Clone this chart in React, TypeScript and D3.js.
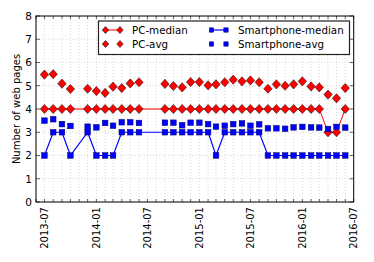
import React from "react";
import * as d3 from "d3";

const months = [
  "2013-07", "2013-08", "2013-09", "2013-10", "2013-12",
  "2014-01", "2014-02", "2014-03", "2014-04", "2014-05", "2014-06",
  "2014-09", "2014-10", "2014-11", "2014-12",
  "2015-01", "2015-02", "2015-03", "2015-04", "2015-05", "2015-06",
  "2015-07", "2015-08", "2015-09", "2015-10", "2015-11", "2015-12",
  "2016-01", "2016-02", "2016-03", "2016-04", "2016-05", "2016-06",
];

const pcMedian = [
  4, 4, 4, 4, 4,
  4, 4, 4, 4, 4, 4,
  4, 4, 4, 4,
  4, 4, 4, 4, 4, 4,
  4, 4, 4, 4, 4, 4,
  4, 4, 4, 3, 3, 4,
];

const pcAvg = [
  5.48, 5.5, 5.09, 4.86, 4.87,
  4.77, 4.69, 4.96, 4.9, 5.1, 5.15,
  5.08, 4.99, 4.93, 5.16,
  5.16, 5.02, 5.06, 5.15, 5.26, 5.19,
  5.23, 5.15, 4.87, 5.06, 5.0, 5.06,
  5.19, 4.97, 4.93, 4.62, 4.46, 4.9,
];

const phoneMedian = [
  2, 3, 3, 2, 3,
  2, 2, 2, 3, 3, 3,
  3, 3, 3, 3,
  3, 3, 2, 3, 3, 3,
  3, 3, 2, 2, 2, 2,
  2, 2, 2, 2, 2, 2,
];

const phoneAvg = [
  3.5, 3.56, 3.35, 3.27, 3.24,
  3.21, 3.4, 3.28, 3.43, 3.43, 3.4,
  3.41, 3.41, 3.3, 3.41,
  3.41, 3.35, 3.24, 3.28, 3.35, 3.38,
  3.28, 3.34, 3.17, 3.17, 3.15, 3.21,
  3.23, 3.21, 3.2, 3.14, 3.23, 3.2,
];

const xTickLabels = ["2013-07", "2014-01", "2014-07", "2015-01", "2015-07", "2016-01", "2016-07"];
const yTicks = [0, 1, 2, 3, 4, 5, 6, 7, 8];
const yLabel = "Number of web pages";
const legendNames = ["PC-median", "PC-avg", "Smartphone-median", "Smartphone-avg"];

const W = 374, H = 262;
const L = 36, R = 353.7, T = 16, B = 202;
const FONT = "DejaVu Sans, sans-serif";
const RED = "#ff0000";
const BLUE = "#0000ff";

const parse = d3.timeParse("%Y-%m");

export default function App() {
  const x = d3.scaleTime().domain([new Date(2013, 5, 1), new Date(2016, 6, 1)]).range([L, R]);
  const y = d3.scaleLinear().domain([0, 8]).range([B, T]);
  const dates = months.map((m) => parse(m) as Date);
  const monthTicks = x.ticks(d3.timeMonth.every(1) as any);

  const line = d3.line<number>().x((_, i) => x(dates[i])).y((v) => y(v));

  const diamond = (cx: number, cy: number, key: string, s = 1) => (
    <path key={key} d={`M${cx},${cy - 4.6 * s}L${cx + 4.2 * s},${cy}L${cx},${cy + 4.6 * s}L${cx - 4.2 * s},${cy}Z`}
      fill={RED} stroke="#000" strokeWidth={0.5} />
  );
  const square = (cx: number, cy: number, key: string, s = 1) => (
    <rect key={key} x={cx - 2.8 * s} y={cy - 2.8 * s} width={5.6 * s} height={5.6 * s}
      fill={BLUE} stroke="#00006a" strokeWidth={0.5} />
  );

  // legend layout
  const lgX = 98.5, lgY = 21, lgW = 251, lgH = 33.5;
  const rows = [30, 44];
  const cols = [{ m1: 105.5, m2: 120, tx: 132 }, { m1: 211.5, m2: 226, tx: 238 }];
  const ls = 0.78;

  return (
    <svg width={W} height={H} style={{ position: "absolute", left: 0, top: 0, background: "#fff" }}>
      <rect x={0} y={0} width={W} height={H} fill="#fff" />
      {/* grid */}
      {monthTicks.map((d, i) => (
        <line key={"gx" + i} x1={x(d)} x2={x(d)} y1={T} y2={B} stroke="#b0b0b0" strokeWidth={0.5} strokeDasharray="1,2" />
      ))}
      {yTicks.map((t) => (
        <line key={"gy" + t} x1={L} x2={R} y1={y(t)} y2={y(t)} stroke="#b0b0b0" strokeWidth={0.5} strokeDasharray="1,2" />
      ))}
      {/* ticks */}
      {monthTicks.map((d, i) => (
        <g key={"tx" + i}>
          <line x1={x(d)} x2={x(d)} y1={B} y2={B - 3} stroke="#000" strokeWidth={0.6} />
          <line x1={x(d)} x2={x(d)} y1={T} y2={T + 3} stroke="#000" strokeWidth={0.6} />
        </g>
      ))}
      {yTicks.map((t) => (
        <g key={"ty" + t}>
          <line x1={L} x2={L + 4} y1={y(t)} y2={y(t)} stroke="#000" strokeWidth={0.6} />
          <line x1={R} x2={R - 4} y1={y(t)} y2={y(t)} stroke="#000" strokeWidth={0.6} />
          <text x={L - 4} y={y(t)} dy="0.36em" textAnchor="end" fontFamily={FONT} fontSize={10.5} fill="#000">{t}</text>
        </g>
      ))}
      {xTickLabels.map((lab) => {
        const px = x(parse(lab) as Date);
        return (
          <text key={lab} transform={`translate(${px},${B + 5}) rotate(-90)`} textAnchor="end" dy="0.36em"
            fontFamily={FONT} fontSize={10} fill="#000">{lab}</text>
        );
      })}
      <text transform={`translate(16,${(T + B) / 2}) rotate(-90)`} textAnchor="middle" dy="0.36em"
        fontFamily={FONT} fontSize={10} fill="#000">{yLabel}</text>
      {/* series */}
      <path d={line(pcMedian) || ""} fill="none" stroke={RED} strokeWidth={1} />
      <path d={line(phoneMedian) || ""} fill="none" stroke={BLUE} strokeWidth={1.2} />
      {pcMedian.map((v, i) => diamond(x(dates[i]), y(v), "pm" + i))}
      {pcAvg.map((v, i) => diamond(x(dates[i]), y(v), "pa" + i))}
      {phoneMedian.map((v, i) => square(x(dates[i]), y(v), "sm" + i))}
      {phoneAvg.map((v, i) => square(x(dates[i]), y(v), "sa" + i))}
      {/* frame */}
      <rect x={L} y={T} width={R - L} height={B - T} fill="none" stroke="#000" strokeWidth={1} />
      {/* legend */}
      <rect x={lgX} y={lgY} width={lgW} height={lgH} fill="#fff" stroke="#222" strokeWidth={1.2} />
      {legendNames.map((name, k) => {
        const c = cols[Math.floor(k / 2)];
        const ry = rows[k % 2];
        const isLine = k % 2 === 0;
        const isPC = k < 2;
        return (
          <g key={name}>
            {isLine && <line x1={c.m1} x2={c.m2} y1={ry} y2={ry} stroke={isPC ? RED : BLUE} strokeWidth={isPC ? 1 : 1.2} />}
            {isPC ? diamond(c.m1, ry, name + "a", ls) : square(c.m1, ry, name + "a", ls)}
            {isPC ? diamond(c.m2, ry, name + "b", ls) : square(c.m2, ry, name + "b", ls)}
            <text x={c.tx} y={ry} dy="0.36em" fontFamily={FONT} fontSize={10.3} fill="#000">{name}</text>
          </g>
        );
      })}
    </svg>
  );
}
